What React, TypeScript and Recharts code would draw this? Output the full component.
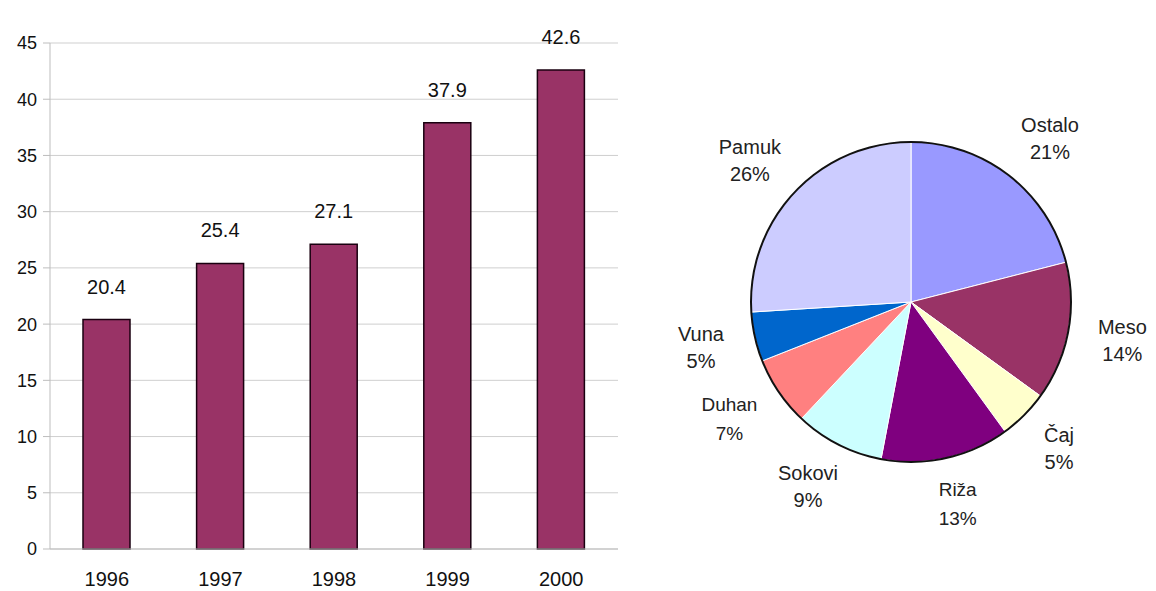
import React from 'react';
import { BarChart, Bar, XAxis, YAxis, CartesianGrid, LabelList, PieChart, Pie, Cell } from 'recharts';

const years = ['1996', '1997', '1998', '1999', '2000'];
const values = [20.4, 25.4, 27.1, 37.9, 42.6];
const yTicks = [0, 5, 10, 15, 20, 25, 30, 35, 40, 45];

const sliceNames = ['Ostalo', 'Meso', 'Čaj', 'Riža', 'Sokovi', 'Duhan', 'Vuna', 'Pamuk'];
const sliceShares = [21, 14, 5, 13, 9, 7, 5, 26];
const sliceColors = ['#9999ff', '#993366', '#ffffcc', '#7f007f', '#ccffff', '#ff8080', '#0066cc', '#ccccff'];

const barData = years.map((year, i) => ({ year, value: values[i] }));
const pieData = sliceNames.map((name, i) => ({ name, share: sliceShares[i] }));

const FONT = '"Liberation Sans", Arial, sans-serif';
const RAD = Math.PI / 180;

// label box sits just outside the rim, pushed out by half its own size
const renderPieLabel = (props: any) => {
    const { cx, cy, midAngle, outerRadius, index } = props;
    const name = sliceNames[index];
    const small = name === 'Duhan' || name === 'Riža';
    const fs = small ? 19 : 20;
    const lineH = small ? 29 : 27;
    const w = name.length * fs * 0.58;
    const h = 30;
    const cos = Math.cos(-midAngle * RAD);
    const sin = Math.sin(-midAngle * RAD);
    const r = outerRadius + 32;
    const x = cx + r * cos + (w / 2) * cos;
    const y = cy + r * sin + (h / 2) * sin;
    return (
        <text x={x} y={y} textAnchor="middle" fill="#222" fontFamily={FONT} fontSize={fs}>
            <tspan x={x} y={y - lineH / 2 + fs * 0.35}>{name}</tspan>
            <tspan x={x} y={y + lineH / 2 + fs * 0.35}>{`${sliceShares[index]}%`}</tspan>
        </text>
    );
};

export default function App() {
    return (
        <div style={{ position: 'absolute', left: 0, top: 0, width: 1156, height: 591, background: '#fff' }}>
            <div style={{ position: 'absolute', left: 0, top: 0 }}>
                <BarChart width={640} height={591} data={barData} margin={{ top: 43, right: 22, bottom: 10, left: 0 }} barSize={47}>
                    <CartesianGrid vertical={false} stroke="#cfcfcf" />
                    <XAxis
                        dataKey="year"
                        height={32}
                        stroke="#bdbdbd"
                        tickLine={false}
                        tickMargin={17}
                        tick={{ fill: '#111', fontSize: 20, fontFamily: FONT }}
                    />
                    <YAxis
                        width={50}
                        domain={[0, 45]}
                        ticks={yTicks}
                        interval={0}
                        stroke="#bdbdbd"
                        tickSize={7}
                        tickMargin={6}
                        tick={{ fill: '#111', fontSize: 18, fontFamily: FONT }}
                    />
                    <YAxis yAxisId="r" orientation="right" width={0} tick={false} tickLine={false} stroke="#bdbdbd" />
                    <Bar dataKey="value" fill="#993366" stroke="#1a0010" strokeWidth={1.5} isAnimationActive={false}>
                        <LabelList dataKey="value" position="top" offset={26} fill="#111" fontSize={20} fontFamily={FONT} />
                    </Bar>
                </BarChart>
            </div>
            <div style={{ position: 'absolute', left: 640, top: 0 }}>
                <PieChart width={516} height={591} margin={{ top: 0, right: 0, bottom: 0, left: 0 }}>
                    <Pie
                        data={pieData}
                        dataKey="share"
                        nameKey="name"
                        cx={271}
                        cy={302}
                        outerRadius={160}
                        startAngle={90}
                        endAngle={-270}
                        stroke="#ffffff"
                        strokeWidth={1}
                        label={renderPieLabel}
                        labelLine={false}
                        isAnimationActive={false}
                    >
                        {pieData.map((d, i) => (
                            <Cell key={d.name} fill={sliceColors[i]} />
                        ))}
                    </Pie>
                    <Pie
                        data={[{ name: 'outline', share: 1 }]}
                        dataKey="share"
                        cx={271}
                        cy={302}
                        innerRadius={159}
                        outerRadius={161}
                        fill="#111"
                        stroke="none"
                        isAnimationActive={false}
                    />
                </PieChart>
            </div>
        </div>
    );
}
